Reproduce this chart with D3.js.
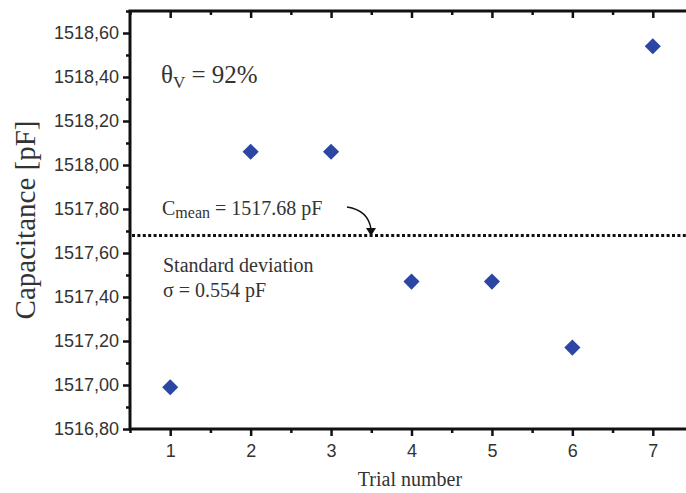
<!DOCTYPE html>
<html>
<head>
<meta charset="utf-8">
<script src="https://cdn.jsdelivr.net/npm/d3@7"></script>
<style>
  body { margin: 0; background: #fff; }
  text { fill: #333; }
</style>
</head>
<body>
<svg width="686" height="493"></svg>
<script>
var svg = d3.select("svg");

// data
var trials = [1, 2, 3, 4, 5, 6, 7];
var capacitance = [1516.99, 1518.06, 1518.06, 1517.47, 1517.47, 1517.17, 1518.54];
var meanValue = 1517.68;
var yTicks = [1516.8, 1517.0, 1517.2, 1517.4, 1517.6, 1517.8, 1518.0, 1518.2, 1518.4, 1518.6];
var xTicks = [1, 2, 3, 4, 5, 6, 7];

var plotLeft = 130, plotRight = 693, plotTop = 11, plotBottom = 429;

var x = d3.scaleLinear().domain([0.5, 7.5]).range([plotLeft, plotRight]);
var y = d3.scaleLinear().domain([1516.8, 1518.7]).range([plotBottom, plotTop]);

var fmt = function(d) { return d3.format(".2f")(d).replace(".", ","); };

var yMinor = yTicks.map(function(d) { return d + 0.1; });
var xMinor = xTicks.map(function(d) { return d + 0.5; }).concat([0.5]);

function styleAxis(g) {
  g.select(".domain").remove();
  g.selectAll(".tick line").attr("stroke", "#111").attr("stroke-width", 2.5);
}

function tickText(g) {
  g.selectAll("text").attr("font-family", "Liberation Sans, Arial, sans-serif")
    .attr("font-size", 18).attr("fill", "#333");
}

// minor ticks
svg.append("g").attr("transform", "translate(" + plotLeft + ",0)")
  .call(d3.axisLeft(y).tickValues(yMinor).tickSize(4).tickFormat(""))
  .call(styleAxis);
svg.append("g").attr("transform", "translate(0," + plotBottom + ")")
  .call(d3.axisBottom(x).tickValues(xMinor).tickSize(4).tickFormat(""))
  .call(styleAxis);
svg.append("g").attr("transform", "translate(0," + plotTop + ")")
  .call(d3.axisBottom(x).tickValues(xMinor).tickSize(4).tickFormat(""))
  .call(styleAxis);
svg.append("g").attr("transform", "translate(" + plotRight + ",0)")
  .call(d3.axisLeft(y).tickValues(yMinor).tickSize(4).tickFormat(""))
  .call(styleAxis);

// major ticks
svg.append("g").attr("transform", "translate(" + plotLeft + ",0)")
  .call(d3.axisLeft(y).tickValues(yTicks).tickSize(7).tickPadding(4).tickFormat(fmt))
  .call(styleAxis)
  .call(tickText);
svg.append("g").attr("transform", "translate(0," + plotBottom + ")")
  .call(d3.axisBottom(x).tickValues(xTicks).tickSize(7).tickPadding(8).tickFormat(d3.format("d")))
  .call(styleAxis)
  .call(tickText);
svg.append("g").attr("transform", "translate(0," + plotTop + ")")
  .call(d3.axisBottom(x).tickValues(xTicks).tickSize(7).tickFormat(""))
  .call(styleAxis);
svg.append("g").attr("transform", "translate(" + plotRight + ",0)")
  .call(d3.axisLeft(y).tickValues(yTicks).tickSize(7).tickFormat(""))
  .call(styleAxis);

// frame
svg.append("rect")
  .attr("x", plotLeft).attr("y", plotTop)
  .attr("width", plotRight - plotLeft).attr("height", plotBottom - plotTop)
  .attr("fill", "none").attr("stroke", "#111").attr("stroke-width", 3);

// mean line
svg.append("line")
  .attr("x1", plotLeft + 2).attr("x2", plotRight)
  .attr("y1", y(meanValue)).attr("y2", y(meanValue))
  .attr("stroke", "#111").attr("stroke-width", 3)
  .attr("stroke-dasharray", "3,2.4");

// points
svg.append("g").selectAll("path")
  .data(trials)
  .enter().append("path")
    .attr("d", d3.symbol().type(d3.symbolSquare).size(130))
    .attr("transform", function(d, i) {
      return "translate(" + x(d) + "," + y(capacitance[i]) + ") rotate(45)";
    })
    .attr("fill", "#2c46a4");

// annotations
var serif = "Liberation Serif, Times New Roman, serif";

var theta = svg.append("text").attr("x", 161).attr("y", 83)
  .attr("font-family", serif).attr("font-size", 25).attr("fill", "#222");
theta.append("tspan").text("θ");
theta.append("tspan").attr("font-size", 17).attr("dy", 5).text("V");
theta.append("tspan").attr("dy", -5).text(" = 92%");

var cmean = svg.append("text").attr("x", 162).attr("y", 215)
  .attr("font-family", serif).attr("font-size", 20).attr("fill", "#222");
cmean.append("tspan").text("C");
cmean.append("tspan").attr("font-size", 16).attr("dy", 3).text("mean");
cmean.append("tspan").attr("dy", -3).text(" = " + meanValue.toFixed(2) + " pF");

svg.append("text").attr("x", 163).attr("y", 272)
  .attr("font-family", serif).attr("font-size", 20).attr("fill", "#222")
  .text("Standard deviation");
svg.append("text").attr("x", 163).attr("y", 297)
  .attr("font-family", serif).attr("font-size", 20).attr("fill", "#222")
  .text("σ = 0.554 pF");

// curved arrow
svg.append("path")
  .attr("d", "M347,207 C360,209 369,216 371,229")
  .attr("fill", "none").attr("stroke", "#111").attr("stroke-width", 1.5);
svg.append("path")
  .attr("d", "M366,228 L376,228 L371,236 Z")
  .attr("fill", "#111");

// axis titles
svg.append("text")
  .attr("transform", "translate(35,220) rotate(-90)")
  .attr("text-anchor", "middle")
  .attr("font-family", serif).attr("font-size", 29)
  .text("Capacitance [pF]");
svg.append("text")
  .attr("x", 410).attr("y", 486)
  .attr("text-anchor", "middle")
  .attr("font-family", serif).attr("font-size", 20)
  .text("Trial number");
</script>
</body>
</html>
